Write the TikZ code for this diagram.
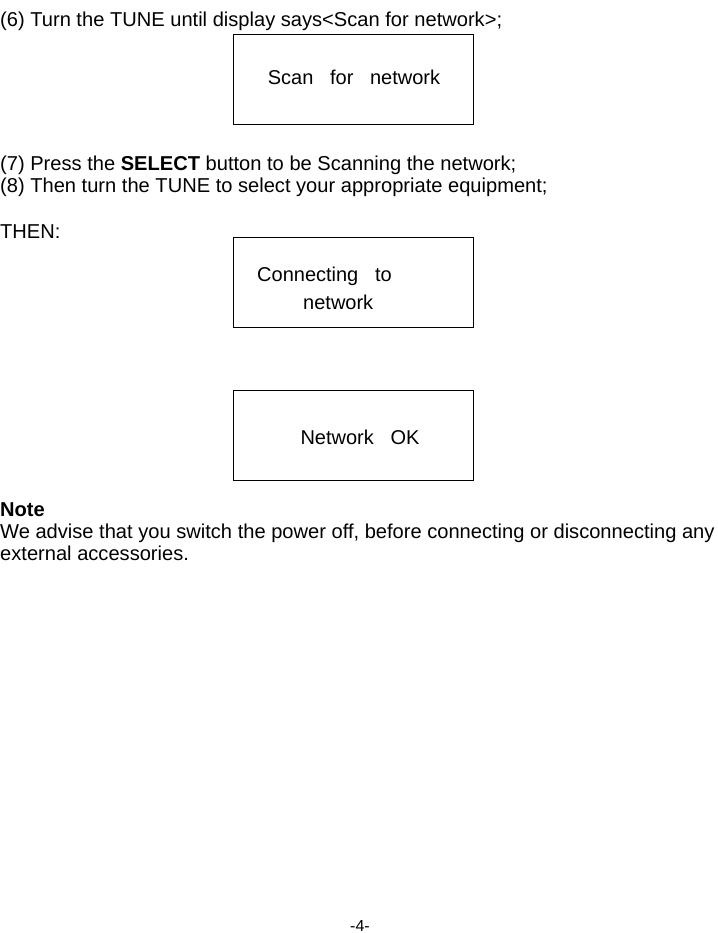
\documentclass[tikz,border=0pt]{standalone}
\usepackage{fontspec}
\setmainfont{Liberation Sans}
\begin{document}
\begin{tikzpicture}[x=1pt,y=-1pt,
  txt/.style={anchor=base west,inner sep=0pt,font=\fontsize{20.1}{24}\selectfont},
  ctxt/.style={anchor=base,inner sep=0pt,font=\fontsize{20}{24}\selectfont},
  screen/.style={draw=black,line width=1pt}]
\useasboundingbox (0,0) rectangle (717,933);
\node[txt] (l6) at (0,27) {(6) Turn the TUNE until display says<Scan for network>;};
\draw[screen] (233,35) rectangle (473,125);
\node[ctxt] (s1) at (354,85) {Scan\ \ \ for\ \ \ network};
\node[txt] (l7) at (0,171) {(7) Press the \textbf{SELECT} button to be Scanning the network;};
\node[txt] (l8) at (0,193) {(8) Then turn the TUNE to select your appropriate equipment;};
\node[txt] (th) at (0,238) {THEN:};
\draw[screen] (233,237) rectangle (473,327);
\node[txt,font=\fontsize{20}{24}\selectfont] (s2a) at (257,281) {Connecting\ \ \ to};
\node[txt,font=\fontsize{20}{24}\selectfont] (s2b) at (303,309) {network};
\draw[screen] (233,390) rectangle (473,480);
\node[ctxt] (s3) at (360,444) {Network\ \ \ OK};
\node[txt] (nt) at (0,516) {\textbf{Note}};
\node[txt] (n1) at (0,538) {We advise that you switch the power off, before connecting or disconnecting any};
\node[txt] (n2) at (0,560) {external accessories.};
\node[ctxt,font=\fontsize{16}{18}\selectfont] (pg) at (360,931) {-4-};
\end{tikzpicture}
\end{document}
